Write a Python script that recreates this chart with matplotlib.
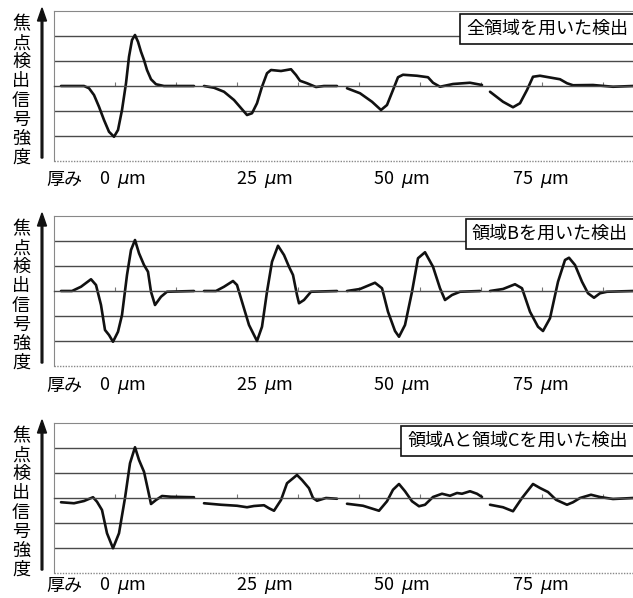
import matplotlib
matplotlib.use("Agg")
import matplotlib.pyplot as plt
import numpy as np

plt.rcParams['font.family'] = ['Noto Sans CJK JP', 'DejaVu Sans']
plt.rcParams['mathtext.fontset'] = 'dejavusans'

W, H = 633, 598

# ---- data (x: position along the shared horizontal axis, y: signal intensity) ----
p1_s1_x = [7,30,35,40,45,50,55,60,64,68,72,75,78,81,84,87,90,93,97,102,110,140]
p1_s1_y = [0,0,-0.09,-0.36,-0.83,-1.36,-1.83,-2.03,-1.76,-0.96,0.11,1.17,1.84,2.04,1.77,1.37,1.04,0.64,0.27,0.07,0,0]
p1_s2_x = [150,160,170,180,188,193,198,203,208,213,217,227,237,242,246,253,262,270,283]
p1_s2_y = [0,-0.07,-0.23,-0.56,-0.93,-1.16,-1.09,-0.69,-0.03,0.51,0.64,0.6,0.67,0.44,0.21,0.11,-0.04,0,0]
p1_s3_x = [293,306,318,327,333,339,344,349,363,374,379,386,399,416,428]
p1_s3_y = [-0.09,-0.29,-0.63,-0.96,-0.76,-0.16,0.35,0.45,0.41,0.35,0.13,-0.03,0.08,0.13,0.04]
p1_s4_x = [436,449,459,466,473,479,486,506,513,519,539,559,579]
p1_s4_y = [-0.23,-0.63,-0.85,-0.69,-0.16,0.37,0.41,0.27,0.11,0.03,0.04,-0.03,0]

p2_s1_x = [7,18,27,37,42,47,51,55,59,64,68,73,77,81,85,90,94,97,101,107,113,140]
p2_s1_y = [0,0,0.17,0.47,0.24,-0.56,-1.56,-1.76,-2.03,-1.63,-0.96,0.64,1.64,2.04,1.51,1.04,0.77,-0.03,-0.56,-0.23,-0.03,0]
p2_s2_x = [150,162,170,179,183,188,195,203,208,213,218,224,230,235,239,243,245,250,257,283]
p2_s2_y = [0,0,0.17,0.4,0.24,-0.43,-1.36,-2.0,-1.43,-0.03,1.17,1.81,1.44,0.97,0.64,-0.16,-0.49,-0.36,-0.03,0]
p2_s3_x = [293,306,321,328,334,341,345,351,358,364,371,379,386,391,398,406,426]
p2_s3_y = [0,0.08,0.33,0.11,-0.83,-1.6,-1.83,-1.36,-0.03,1.31,1.55,0.97,0.11,-0.36,-0.16,-0.03,0]
p2_s4_x = [436,449,461,468,476,484,489,496,504,511,515,521,528,534,540,546,553,579]
p2_s4_y = [0,0.08,0.27,0.11,-0.83,-1.43,-1.6,-1.09,0.37,1.24,1.33,1.04,0.37,-0.09,-0.27,-0.09,-0.03,0]

p3_s1_x = [7,20,30,39,43,48,53,59,65,71,76,81,85,90,94,97,102,108,117,140]
p3_s1_y = [-0.17,-0.21,-0.12,0.03,-0.15,-0.48,-1.41,-2.01,-1.41,0,1.39,2.03,1.52,1.05,0.32,-0.24,-0.08,0.08,0.05,0.03]
p3_s2_x = [150,167,183,193,200,210,215,220,227,233,243,248,255,259,263,272,283]
p3_s2_y = [-0.21,-0.27,-0.31,-0.37,-0.32,-0.29,-0.41,-0.51,-0.08,0.59,0.92,0.72,0.39,0,-0.11,0,-0.03]
p3_s3_x = [293,309,325,333,339,345,351,358,365,371,379,388,396,403,408,416,423,428]
p3_s3_y = [-0.23,-0.31,-0.51,-0.13,0.33,0.56,0.27,-0.13,-0.33,-0.27,0.04,0.17,0.09,0.2,0.17,0.27,0.17,0.04]
p3_s4_x = [436,449,459,468,479,486,494,502,513,519,526,537,546,559,579]
p3_s4_y = [-0.27,-0.37,-0.53,0,0.56,0.4,0.24,-0.07,-0.27,-0.17,0,0.13,0.04,-0.04,0]

panel_titles = ['全領域を用いた検出', '領域Bを用いた検出', '領域Aと領域Cを用いた検出']
thickness_labels = ['0  $\\mu$m', '25  $\\mu$m', '50  $\\mu$m', '75  $\\mu$m']
ylabel = '焦点検出信号強度'

panels = [
    [(p1_s1_x, p1_s1_y), (p1_s2_x, p1_s2_y), (p1_s3_x, p1_s3_y), (p1_s4_x, p1_s4_y)],
    [(p2_s1_x, p2_s1_y), (p2_s2_x, p2_s2_y), (p2_s3_x, p2_s3_y), (p2_s4_x, p2_s4_y)],
    [(p3_s1_x, p3_s1_y), (p3_s2_x, p3_s2_y), (p3_s3_x, p3_s3_y), (p3_s4_x, p3_s4_y)],
]

# ---- layout (pixels) ----
ax_left, ax_right = 54, 633
panel_tops = [11, 216, 423]
panel_h = 150
label_y = [180, 386, 586]
label_cx = [122, 264, 401, 540]
vlabel_cy = [91, 296, 503]
arrow_y = [(158, 8), (363, 213), (570, 420)]
title_right = 628

fig = plt.figure(figsize=(W / 100, H / 100), dpi=100)

for i, segs in enumerate(panels):
    top = panel_tops[i]
    ax = fig.add_axes([ax_left / W, 1 - (top + panel_h) / H, (ax_right - ax_left) / W, panel_h / H])
    ax.set_xlim(0, ax_right - ax_left)
    ax.set_ylim(-3, 3)
    ax.set_yticks([-2, -1, 1, 2])
    ax.tick_params(axis='y', length=0, labelleft=False)
    ax.grid(axis='y', color='#4a4a4a', lw=1.0)
    ax.set_xticks(np.arange(61, 579, 61))
    ax.tick_params(axis='x', direction='in', length=3, color='#777777', labelbottom=False, width=0.8)
    ax.spines['bottom'].set_position(('data', 0))
    ax.spines['bottom'].set_color('#4a4a4a')
    ax.spines['bottom'].set_linewidth(1.0)
    ax.spines['top'].set_linestyle((0, (1, 1)))
    ax.spines['top'].set_color('#888888')
    ax.spines['left'].set_color('#888888')
    ax.spines['left'].set_linewidth(0.8)
    ax.spines['right'].set_visible(False)
    ax.plot([0, 1], [0, 0], transform=ax.transAxes, ls=(0, (1, 1)), color='#888888', lw=1.0, clip_on=False)
    for xs, ys in segs:
        ax.plot(xs, ys, color='#111111', lw=1.9, solid_joinstyle='round', solid_capstyle='round')

    # title box
    ty = 1 - (top + 18) / H
    fig.text(title_right / W, ty, panel_titles[i], ha='right', va='center', fontsize=13,
             bbox=dict(boxstyle='square,pad=0.35', fc='white', ec='#111111', lw=1.2))

    # vertical y label
    fig.text(21 / W, 1 - vlabel_cy[i] / H, '\n'.join(ylabel), ha='center', va='center',
             fontsize=13, linespacing=1.08)
    # arrow
    y0, y1 = arrow_y[i]
    fig.add_artist(matplotlib.patches.FancyArrow(42 / W, 1 - y0 / H, 0, -(y1 - y0) / H, width=1.6 / H,
                                                 head_width=9 / W, head_length=13 / H,
                                                 length_includes_head=True, color='#111111',
                                                 transform=fig.transFigure))
    # bottom labels
    ly = 1 - label_y[i] / H
    fig.text(64 / W, ly, '厚み', ha='center', va='center', fontsize=13)
    for cx, lab in zip(label_cx, thickness_labels):
        fig.text(cx / W, ly, lab, ha='center', va='center', fontsize=13)

fig.savefig('out.png', dpi=100)
